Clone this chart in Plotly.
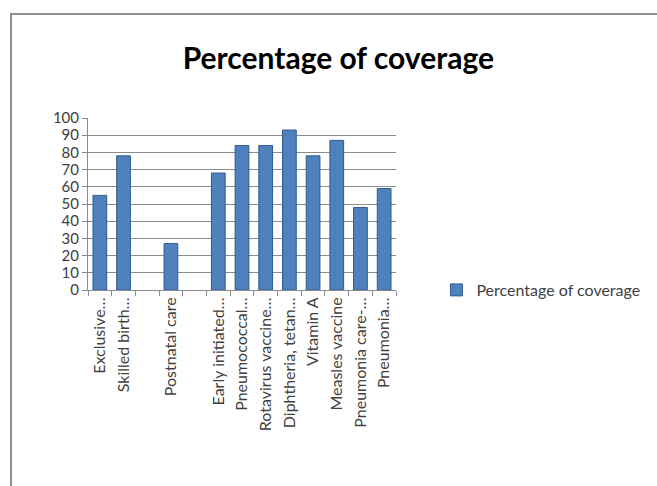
import plotly.graph_objects as go

categories = ["Exclusive…", "Skilled birth…", " ", "Postnatal care", "  ",
              "Early initiated…", "Pneumococcal…", "Rotavirus vaccine…",
              "Diphtheria, tetan…", "Vitamin A", "Measles vaccine",
              "Pneumonia care-…", "Pneumonia…"]
values = [55, 78, None, 27, None, 68, 84, 84, 93, 78, 87, 48, 59]
series_name = "Percentage of coverage"

W, H = 657, 486
L, R, T, B = 88, 408, 118, 290  # plot area in px

def px_x(x):
    return (x - L) / (R - L)

def px_y(y):
    return (B - y) / (B - T)

fig = go.Figure()
fig.add_trace(go.Bar(
    x=categories, y=values, name=series_name,
    marker=dict(color="#4F81BD", line=dict(color="#2F5C8F", width=1)),
    showlegend=True,
))

fig.update_layout(
    width=W, height=H,
    margin=dict(l=L, r=W - R, t=T, b=H - B),
    paper_bgcolor="white", plot_bgcolor="white",
    bargap=0.42,
    font=dict(family="Lato, Open Sans, sans-serif", color="#404040"),
    title=dict(text="<b>Percentage of coverage</b>", x=0.515, xanchor="center",
               y=1 - 58 / H, yanchor="middle",
               font=dict(size=30, color="#000000", family="Lato, sans-serif")),
    showlegend=True,
    legend=dict(x=px_x(450), y=px_y(290), xanchor="left", yanchor="middle",
                font=dict(size=16, color="#404040"), bgcolor="rgba(0,0,0,0)"),
    xaxis=dict(type="category", tickangle=-90, tickfont=dict(size=16, color="#404040"),
               showline=True, linecolor="#8c8c8c", ticks="outside", ticklen=5,
               tickcolor="#8c8c8c", tickson="boundaries", showgrid=False),
    yaxis=dict(range=[0, 100], dtick=10, tickfont=dict(size=15, color="#404040"),
               showline=True, linecolor="#8c8c8c", ticks="outside", ticklen=5,
               tickcolor="#8c8c8c", gridcolor="#8c8c8c", gridwidth=1, zeroline=False),
    shapes=[dict(type="rect", xref="paper", yref="paper",
                 x0=px_x(8), x1=px_x(720), y0=px_y(520), y1=px_y(14),
                 line=dict(color="#8f8f8f", width=2), fillcolor="rgba(0,0,0,0)",
                 layer="below")],
)

fig.write_html("out.html")
